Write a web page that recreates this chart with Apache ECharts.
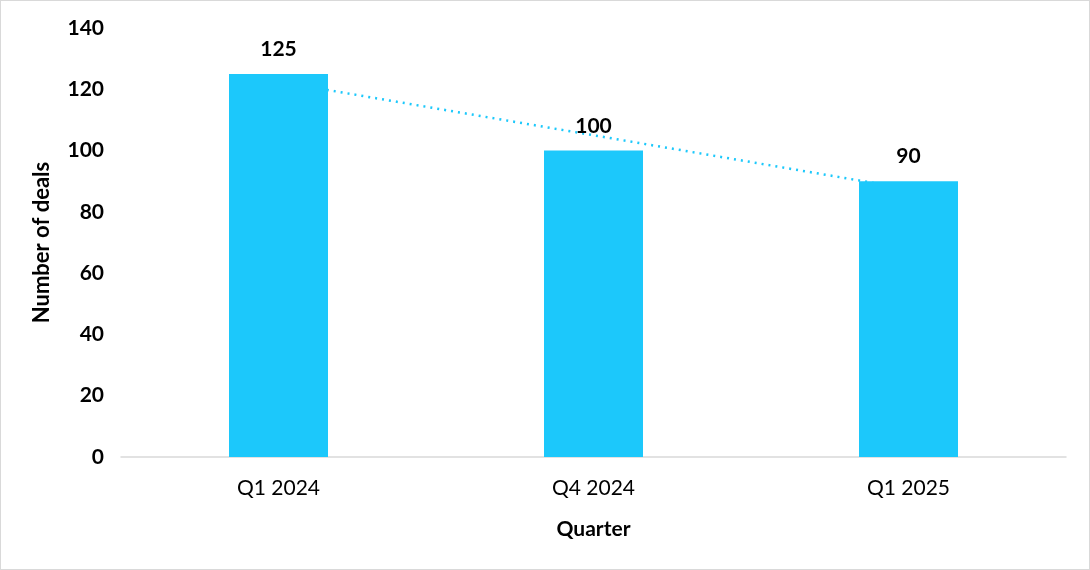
<!DOCTYPE html>
<html>
<head>
<meta charset="utf-8">
<script src="https://cdn.jsdelivr.net/npm/echarts@6/dist/echarts.min.js"></script>
<style>
    html, body { margin: 0; padding: 0; background: #fff; }
    #main { width: 1088px; height: 568px; border: 1px solid #d9d9d9; }
</style>
</head>
<body>
<div id="main"></div>
<script>
var quarters = ['Q1 2024', 'Q4 2024', 'Q1 2025'];
var deals = [125, 100, 90];
// linear trendline values read at each category
var trendValues = [122.5, 105, 87.5];

var font = 'Lato, "Open Sans", sans-serif';
var myChart = echarts.init(document.getElementById('main'));

var option = {
    animation: false,
    textStyle: { fontFamily: font },
    grid: {
        left: 120,
        right: 23,
        top: 27,
        bottom: 112
    },
    xAxis: {
        type: 'category',
        data: quarters,
        name: 'Quarter',
        nameLocation: 'middle',
        nameGap: 62,
        nameTextStyle: { fontFamily: font, fontSize: 21, fontWeight: 'bold', color: '#000' },
        axisLine: { lineStyle: { color: '#d9d9d9', width: 1.5 } },
        axisTick: { show: false },
        axisLabel: { fontFamily: font, fontSize: 21, color: '#000', margin: 21 }
    },
    yAxis: {
        type: 'value',
        min: 0,
        max: 140,
        interval: 20,
        name: 'Number of deals',
        nameLocation: 'middle',
        nameGap: 68,
        nameTextStyle: { fontFamily: font, fontSize: 22, fontWeight: 'bold', color: '#000' },
        axisLine: { show: false },
        axisTick: { show: false },
        splitLine: { show: false },
        axisLabel: { fontFamily: font, fontSize: 21, fontWeight: 'bold', color: '#000', margin: 17 }
    },
    series: [
        {
            name: 'Trend',
            type: 'line',
            data: trendValues,
            z: 1,
            symbol: 'none',
            lineStyle: { color: '#1cc8fb', width: 2.5, type: [2, 5] }
        },
        {
            name: 'Deals',
            type: 'bar',
            data: deals,
            z: 2,
            barWidth: 99,
            itemStyle: { color: '#1cc8fb' },
            label: {
                show: true,
                position: 'top',
                distance: 14,
                fontFamily: font,
                fontSize: 21,
                fontWeight: 'bold',
                color: '#000'
            }
        }
    ]
};

myChart.setOption(option);
</script>
</body>
</html>
